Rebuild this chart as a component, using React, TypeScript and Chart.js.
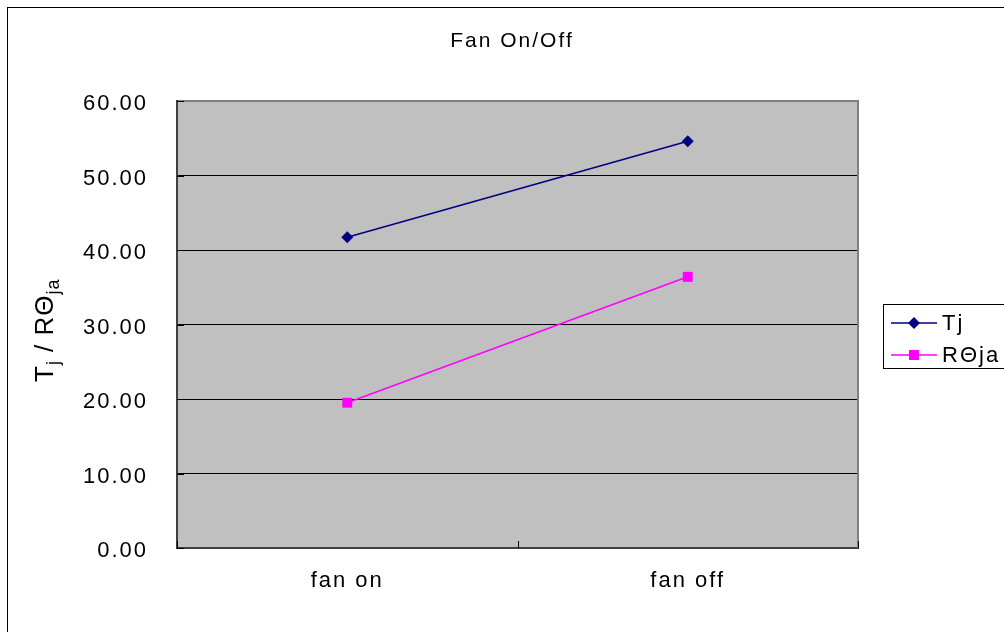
import React, { useEffect, useRef } from "react";
import { Chart, registerables } from "chart.js";

Chart.register(...registerables);

const categories = ["fan on", "fan off"];
const tjValues = [41.7, 54.6];
const rThetaValues = [19.5, 36.4];
const seriesNames = ["Tj", "RΘja"];
const seriesColors = ["#000080", "#FF00FF"];
const chartTitle = "Fan On/Off";
const yMin = 0;
const yMax = 60;
const yStep = 10;

const FONT = '"Liberation Sans", Arial, sans-serif';
const SPACING = "2px";

const decorPlugin = {
  id: "decor",
  beforeDraw(chart: any) {
    const { ctx, chartArea: a } = chart;
    ctx.save();
    ctx.fillStyle = "#ffffff";
    ctx.fillRect(0, 0, chart.width, chart.height);
    ctx.fillStyle = "#C0C0C0";
    ctx.fillRect(a.left, a.top, a.right - a.left, a.bottom - a.top);
    ctx.strokeStyle = "#000000";
    ctx.lineWidth = 1;
    ctx.strokeRect(7.5, 7.5, chart.width + 20, chart.height + 20);
    ctx.restore();
    (ctx as any).letterSpacing = SPACING;
  },
  beforeDatasetsDraw(chart: any) {
    const { ctx, chartArea: a, scales } = chart;
    ctx.save();
    ctx.strokeStyle = "#808080";
    ctx.lineWidth = 2;
    ctx.beginPath();
    ctx.moveTo(a.right, a.top - 1);
    ctx.lineTo(a.right, a.bottom);
    ctx.stroke();
    ctx.strokeStyle = "#000000";
    ctx.lineWidth = 1;
    const ys = scales.y;
    for (let v = yMin; v <= yMax; v += yStep) {
      const py = Math.round(ys.getPixelForValue(v)) + 0.5;
      ctx.beginPath();
      ctx.moveTo(a.left, py);
      ctx.lineTo(a.left + 7, py);
      ctx.stroke();
    }
    const n = categories.length;
    for (let i = 0; i <= n; i++) {
      const px = Math.round(a.left + ((a.right - a.left) * i) / n) + 0.5;
      ctx.beginPath();
      ctx.moveTo(px, a.bottom);
      ctx.lineTo(px, a.bottom - 7);
      ctx.stroke();
    }
    ctx.restore();
  },
  afterDraw(chart: any) {
    const { ctx } = chart;
    ctx.save();
    (ctx as any).letterSpacing = SPACING;
    ctx.fillStyle = "#000000";
    ctx.font = `21px ${FONT}`;
    ctx.textAlign = "center";
    ctx.textBaseline = "alphabetic";
    ctx.fillText(chartTitle, 512, 47);

    ctx.save();
    ctx.translate(53, 382);
    ctx.rotate(-Math.PI / 2);
    ctx.textAlign = "left";
    (ctx as any).letterSpacing = "1px";
    const big = `26px ${FONT}`;
    const small = `18px ${FONT}`;
    const parts: [string, boolean][] = [
      ["T", false],
      ["j", true],
      [" / RΘ", false],
      ["ja", true],
    ];
    let x = 0;
    for (const [t, sub] of parts) {
      ctx.font = sub ? small : big;
      ctx.fillText(t, x, sub ? 6 : 0);
      x += ctx.measureText(t).width;
    }
    ctx.restore();

    const lx = 883;
    const ly = 304;
    ctx.strokeStyle = "#000000";
    ctx.lineWidth = 1;
    ctx.strokeRect(lx + 0.5, ly + 0.5, 140, 64);
    const rows = [323, 355];
    seriesNames.forEach((name, i) => {
      const ry = rows[i];
      ctx.strokeStyle = seriesColors[i];
      ctx.fillStyle = seriesColors[i];
      ctx.lineWidth = 1.5;
      ctx.beginPath();
      ctx.moveTo(891, ry);
      ctx.lineTo(937, ry);
      ctx.stroke();
      const cx = 914;
      if (i === 0) {
        ctx.beginPath();
        ctx.moveTo(cx, ry - 6);
        ctx.lineTo(cx + 6, ry);
        ctx.lineTo(cx, ry + 6);
        ctx.lineTo(cx - 6, ry);
        ctx.closePath();
        ctx.fill();
      } else {
        ctx.fillRect(cx - 5, ry - 5, 10, 10);
      }
      ctx.fillStyle = "#000000";
      ctx.font = `22px ${FONT}`;
      ctx.textAlign = "left";
      ctx.textBaseline = "middle";
      ctx.fillText(name, 942, ry + 1);
    });
    ctx.restore();
  },
};

export default function App() {
  const canvasRef = useRef<HTMLCanvasElement | null>(null);

  useEffect(() => {
    const canvas = canvasRef.current;
    if (!canvas) return;
    const chart = new Chart(canvas, {
      type: "line",
      data: {
        labels: categories,
        datasets: [
          {
            label: seriesNames[0],
            data: tjValues,
            borderColor: seriesColors[0],
            backgroundColor: seriesColors[0],
            borderWidth: 1.5,
            pointStyle: "rectRot",
            pointRadius: 6,
            pointBorderWidth: 0,
            tension: 0,
          },
          {
            label: seriesNames[1],
            data: rThetaValues,
            borderColor: seriesColors[1],
            backgroundColor: seriesColors[1],
            borderWidth: 1.5,
            pointStyle: "rect",
            pointRadius: 7,
            pointBorderWidth: 0,
            tension: 0,
          },
        ],
      },
      options: {
        responsive: false,
        animation: false,
        devicePixelRatio: 1,
        layout: { padding: { top: 101, right: 146, left: 0, bottom: 0 } },
        plugins: {
          legend: { display: false },
          title: { display: false },
          tooltip: { enabled: false },
        },
        scales: {
          x: {
            type: "category",
            offset: true,
            grid: { display: false, drawTicks: false },
            border: { display: true, color: "#404040", width: 2 },
            ticks: {
              color: "#000000",
              font: { family: FONT, size: 22 },
              padding: 20,
              maxRotation: 0,
            },
            afterFit: (s: any) => {
              s.height = 84;
            },
          },
          y: {
            min: yMin,
            max: yMax,
            ticks: {
              stepSize: yStep,
              color: "#000000",
              font: { family: FONT, size: 22 },
              padding: 29,
              labelOffset: 3,
              callback: (v: any) => Number(v).toFixed(2),
            },
            grid: {
              drawTicks: false,
              lineWidth: (c: any) => (c.tick && c.tick.value === yMax ? 2 : 1),
              color: (c: any) =>
                c.tick && c.tick.value === yMax ? "#808080" : "#000000",
            },
            border: { display: true, color: "#404040", width: 2 },
            afterFit: (s: any) => {
              s.width = 177;
            },
          },
        },
      },
      plugins: [decorPlugin],
    } as any);
    return () => chart.destroy();
  }, []);

  return (
    <div style={{ position: "absolute", left: 0, top: 0, width: 1004, height: 632 }}>
      <canvas ref={canvasRef} width={1004} height={632} />
    </div>
  );
}
